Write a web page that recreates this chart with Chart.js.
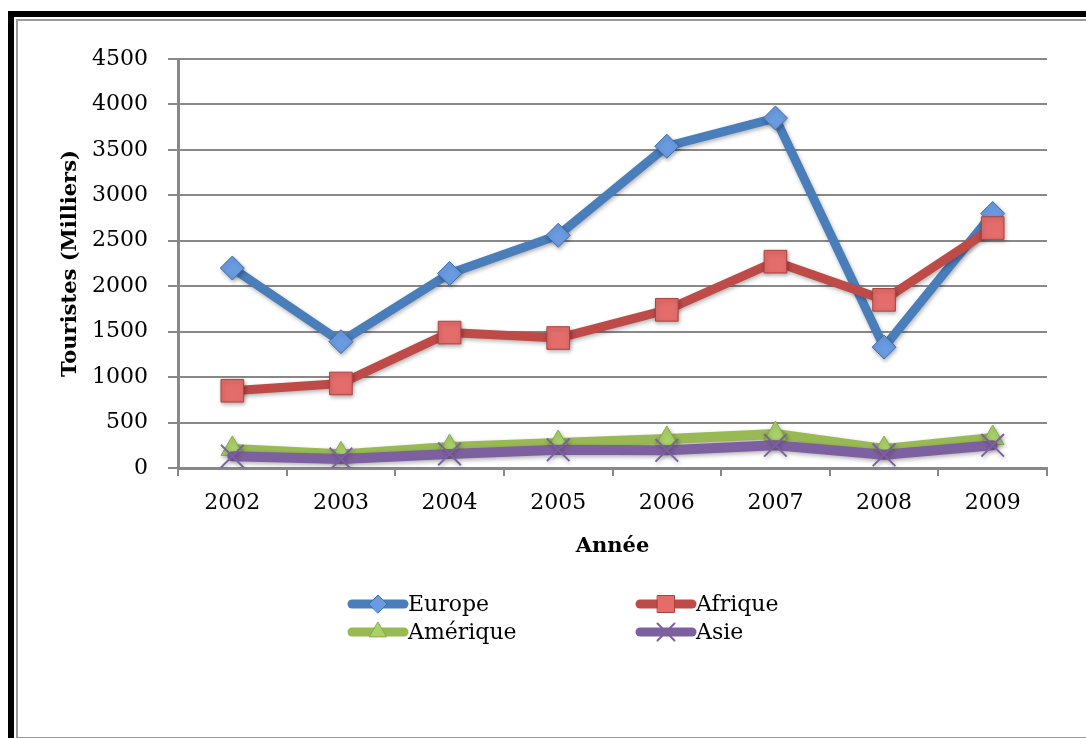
<!DOCTYPE html>
<html lang="fr">
<head>
<meta charset="UTF-8">
<title>Touristes par année</title>
<script src="https://cdn.jsdelivr.net/npm/chart.js@4.4.0/dist/chart.umd.min.js"></script>
<style>
    html, body { margin: 0; padding: 0; background: #fff; overflow: hidden; }
    .cadre { position: absolute; left: 8px; top: 11px; width: 1200px; height: 800px; border: 6px solid #000; }
    .cadre-int { position: absolute; left: 16px; top: 19px; width: 1200px; height: 716px; border: 2px solid #9a9a9a; }
    #graph { position: absolute; left: 0; top: 0; }
</style>
</head>
<body>
<div class="cadre"></div>
<div class="cadre-int"></div>
<canvas id="graph" width="1086" height="738"></canvas>
<script>
    var annees = ['2002', '2003', '2004', '2005', '2006', '2007', '2008', '2009'];
    var europe = [2200, 1390, 2140, 2560, 3540, 3850, 1330, 2800];
    var afrique = [850, 930, 1490, 1430, 1740, 2270, 1850, 2640];
    var amerique = [210, 150, 230, 275, 320, 375, 210, 330];
    var asie = [130, 100, 155, 200, 195, 250, 145, 250];

    var police = 'DejaVu Serif';

    // legende 2 x 2 dessinee a la main sous le graphique
    var legende = {
        id: 'legende',
        afterDraw: function (chart) {
            var ctx = chart.ctx;
            var places = [[348, 604], [636, 604], [348, 632], [636, 632]];
            ctx.save();
            chart.data.datasets.forEach(function (ds, k) {
                var x = places[k][0], y = places[k][1];
                ctx.lineCap = 'round';
                ctx.lineWidth = 9;
                ctx.strokeStyle = ds.borderColor;
                ctx.beginPath();
                ctx.moveTo(x + 4, y);
                ctx.lineTo(x + 56, y);
                ctx.stroke();
                ctx.fillStyle = ds.pointBackgroundColor;
                ctx.strokeStyle = ds.pointBorderColor;
                ctx.lineWidth = ds.pointBorderWidth;
                Chart.helpers.drawPoint(ctx, {
                    pointStyle: ds.pointStyle,
                    radius: ds.pointRadius * 0.75,
                    rotation: 0,
                    borderWidth: ds.pointBorderWidth
                }, x + 30, y);
                ctx.fillStyle = '#000';
                ctx.font = '22px "' + police + '"';
                ctx.textBaseline = 'middle';
                ctx.textAlign = 'left';
                ctx.fillText(ds.label, x + 60, y + 1);
            });
            ctx.restore();
        }
    };

    // petite ombre sous les courbes
    var ombre = {
        id: 'ombre',
        beforeDatasetsDraw: function (chart) {
            var ctx = chart.ctx;
            ctx.save();
            ctx.shadowColor = 'rgba(0,0,0,0.3)';
            ctx.shadowBlur = 4;
            ctx.shadowOffsetX = 1;
            ctx.shadowOffsetY = 2;
        },
        afterDatasetsDraw: function (chart) {
            chart.ctx.restore();
        }
    };

    var ctx = document.getElementById('graph').getContext('2d');
    var graph = new Chart(ctx, {
        type: 'line',
        data: {
            labels: annees,
            datasets: [{
                label: 'Europe',
                data: europe,
                borderColor: '#4a7ebb',
                borderWidth: 9,
                pointStyle: 'rectRot',
                pointRadius: 12,
                pointBackgroundColor: '#6a9be0',
                pointBorderColor: '#3f6fa8',
                pointBorderWidth: 1,
                order: 4
            }, {
                label: 'Afrique',
                data: afrique,
                borderColor: '#be4b48',
                borderWidth: 9,
                pointStyle: 'rect',
                pointRadius: 16,
                pointBackgroundColor: '#e46d6b',
                pointBorderColor: '#b0403d',
                pointBorderWidth: 1,
                order: 3
            }, {
                label: 'Amérique',
                data: amerique,
                borderColor: '#98b954',
                borderWidth: 10,
                pointStyle: 'triangle',
                pointRadius: 13,
                pointBackgroundColor: '#a9d36a',
                pointBorderColor: '#88a94a',
                pointBorderWidth: 1,
                order: 2
            }, {
                label: 'Asie',
                data: asie,
                borderColor: '#7d60a0',
                borderWidth: 10,
                pointStyle: 'crossRot',
                pointRadius: 16,
                pointBackgroundColor: '#7d60a0',
                pointBorderColor: '#7d60a0',
                pointBorderWidth: 2,
                order: 1
            }]
        },
        options: {
            responsive: false,
            animation: false,
            layout: { padding: { left: 50, top: 59, right: 39, bottom: 170 } },
            elements: {
                line: { tension: 0, borderCapStyle: 'round', borderJoinStyle: 'round' }
            },
            plugins: {
                legend: { display: false },
                tooltip: { enabled: false }
            },
            scales: {
                x: {
                    offset: true,
                    afterFit: function (s) { s.height = 100; },
                    grid: { offset: true, drawOnChartArea: false, drawTicks: true, tickLength: 8, color: '#888', lineWidth: 2 },
                    border: { display: true, color: '#888', width: 3 },
                    ticks: { color: '#000', padding: 14, font: { family: police, size: 22 } },
                    title: { display: true, text: 'Année', color: '#000', padding: { top: 0, bottom: 9 }, font: { family: police, size: 21, weight: 'bold' } }
                },
                y: {
                    min: 0,
                    max: 4500,
                    afterFit: function (s) { s.width = 128; },
                    grid: { drawTicks: true, tickLength: 10, color: '#888', lineWidth: 2 },
                    border: { display: true, color: '#888', width: 3 },
                    ticks: {
                        stepSize: 500, color: '#000', padding: 20, font: { family: police, size: 22 },
                        callback: function (v) { return String(v); }
                    },
                    title: { display: true, text: 'Touristes (Milliers)', color: '#000', padding: { top: 8, bottom: 0 }, font: { family: police, size: 21, weight: 'bold' } }
                }
            }
        },
        plugins: [ombre, legende]
    });
</script>
</body>
</html>
